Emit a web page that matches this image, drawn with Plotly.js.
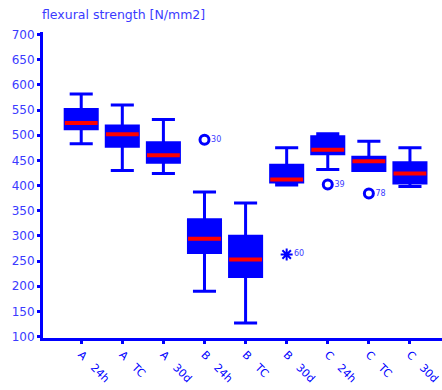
<!DOCTYPE html>
<html>
<head>
<meta charset="utf-8">
<script src="https://cdn.plot.ly/plotly-3.0.1.min.js"></script>
<style>html,body{margin:0;padding:0;background:#fff;}#chart{width:442px;height:390px;}</style>
</head>
<body>
<div id="chart"></div>
<script>
// Categories (tick labels)
const categories = ['A   24h', 'A   TC', 'A   30d', 'B   24h', 'B   TC', 'B   30d', 'C   24h', 'C   TC', 'C   30d'];
// Box statistics (N/mm2)
const lowerWhisker = [483, 430, 424, 190, 127, 401, 432, 430, 398];
const q1Values     = [513, 478, 446, 267, 219, 407, 463, 430, 405];
const medianValues = [524, 502, 460, 294, 253, 412, 471, 448, 424];
const q3Values     = [551, 518, 485, 332, 299, 440, 497, 456, 445];
const upperWhisker = [582, 560, 531, 387, 365, 475, 503, 488, 475];
// Outliers
const outlierCats   = ['B   24h', 'C   24h', 'C   TC'];
const outlierVals   = [491, 402, 384];
const outlierLabels = ['30', '39', '78'];
// Extreme values
const extremeCats   = ['B   30d'];
const extremeVals   = [263];
const extremeLabels = ['60'];

const blue = '#0000ff';
const textBlue = '#3b3bff';

const boxes = {
  type: 'box', x: categories,
  q1: q1Values, median: medianValues, q3: q3Values,
  lowerfence: lowerWhisker, upperfence: upperWhisker,
  boxpoints: false, width: 0.78, whiskerwidth: 0.72,
  fillcolor: blue, line: {color: blue, width: 3},
  hoverinfo: 'skip', showlegend: false
};
const medians = {
  type: 'box', x: categories,
  q1: medianValues, median: medianValues, q3: medianValues,
  lowerfence: medianValues, upperfence: medianValues,
  boxpoints: false, width: 0.8, whiskerwidth: 0,
  fillcolor: 'rgba(0,0,0,0)', line: {color: '#ff0000', width: 4},
  hoverinfo: 'skip', showlegend: false
};
const outliers = {
  type: 'scatter', mode: 'markers+text', x: outlierCats, y: outlierVals,
  text: outlierLabels, textposition: 'middle right',
  textfont: {family: 'DejaVu Sans', size: 8, color: textBlue},
  marker: {symbol: 'circle-open', size: 9, color: blue, line: {width: 3, color: blue}},
  hoverinfo: 'skip', showlegend: false
};
const extremes = {
  type: 'scatter', mode: 'markers+text', x: extremeCats, y: extremeVals,
  text: extremeLabels, textposition: 'middle right',
  textfont: {family: 'DejaVu Sans', size: 8, color: textBlue},
  marker: {symbol: 'asterisk', size: 10, color: blue, line: {width: 2, color: blue}},
  hoverinfo: 'skip', showlegend: false
};

const layout = {
  width: 442, height: 390,
  margin: {l: 43, r: 0, t: 32, b: 52},
  paper_bgcolor: '#ffffff', plot_bgcolor: '#ffffff',
  boxmode: 'overlay',
  font: {family: 'DejaVu Sans', color: textBlue},
  title: {
    text: 'flexural strength [N/mm2]',
    font: {family: 'DejaVu Sans', size: 12.5, color: textBlue},
    xref: 'container', x: 42 / 442, xanchor: 'left',
    yref: 'container', y: 1 - 15 / 390, yanchor: 'middle'
  },
  xaxis: {
    type: 'category', range: [-0.93, 8.78],
    showline: true, linecolor: blue, linewidth: 3,
    ticks: 'outside', ticklen: 3, tickwidth: 3, tickcolor: blue,
    tickangle: 45, tickfont: {family: 'DejaVu Sans', size: 11, color: blue},
    showgrid: false, zeroline: false, fixedrange: true
  },
  yaxis: {
    range: [97, 705],
    tickvals: [100, 150, 200, 250, 300, 350, 400, 450, 500, 550, 600, 650, 700],
    showline: true, linecolor: blue, linewidth: 3,
    ticks: 'outside', ticklen: 3, tickwidth: 3, tickcolor: blue,
    tickfont: {family: 'DejaVu Sans', size: 12, color: textBlue},
    showgrid: false, zeroline: false, fixedrange: true
  }
};

Plotly.newPlot('chart', [boxes, medians, outliers, extremes], layout, {staticPlot: true, displayModeBar: false});
</script>
</body>
</html>
